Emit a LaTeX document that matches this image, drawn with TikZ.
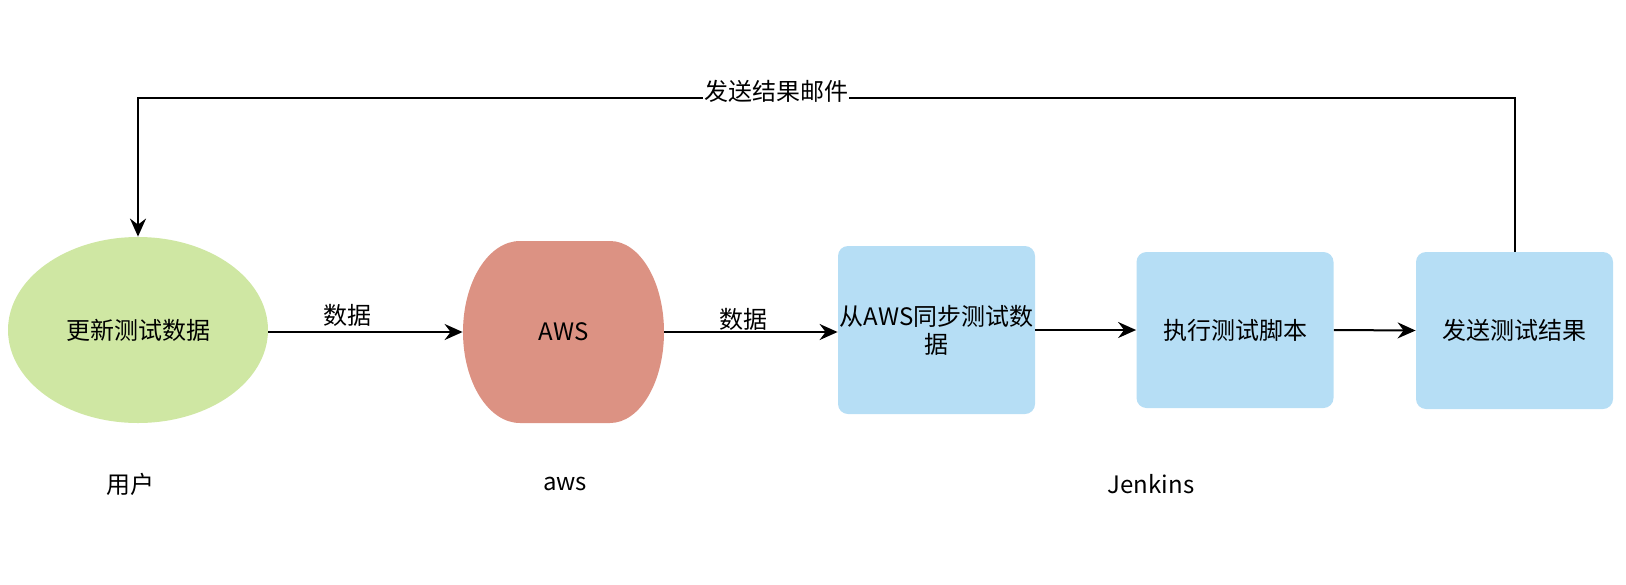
\documentclass[tikz,border=0pt]{standalone}
\usepackage{fontspec}
\setmainfont{Noto Sans CJK SC}
\usetikzlibrary{shapes.geometric,arrows.meta}
\definecolor{usergreen}{HTML}{CFE7A3}
\definecolor{awsred}{HTML}{DC9283}
\definecolor{jblue}{HTML}{B6DEF5}
\tikzset{
  txt/.style={font=\fontsize{12pt}{14pt}\selectfont, text=black},
  flowbox/.style={txt, rectangle, rounded corners=5pt, fill=jblue, inner sep=0pt, minimum width=98.5pt, align=center},
  conn/.style={line width=1pt, -{Stealth[length=9pt,width=8pt,inset=3pt]}},
  lbl/.style={txt, inner sep=0.5pt},
}
\begin{document}
\begin{tikzpicture}[x=0.5pt,y=-0.5pt]
\useasboundingbox (0,0) rectangle (1626,584);
% user ellipse
\node[txt, ellipse, fill=usergreen, inner sep=0pt, minimum width=130pt, minimum height=93pt] (ell) at (138,330) {更新测试数据};
% aws shape
\path[fill=awsred] (520,241) arc[start angle=90,end angle=270,x radius=28.5pt,y radius=45.5pt] -- (610,423) arc[start angle=-90,end angle=90,x radius=27pt,y radius=45.5pt] -- cycle;
\node[txt, rectangle, inner sep=0pt, minimum width=100.5pt, minimum height=91pt] (aws) at (563.5,332) {AWS};
% jenkins boxes
\node[flowbox, minimum height=84pt] (b1) at (936.5,330) {从AWS同步测试数\\据};
\node[flowbox, minimum height=78pt] (b2) at (1235,330) {执行测试脚本};
\node[flowbox, minimum height=78.5pt] (b3) at (1514.5,330.5) {发送测试结果};
% group labels
\node[txt] (luser) at (130,484) {用户};
\node[txt] (laws) at (565,484) {aws};
\node[txt] (ljen) at (1151,484) {Jenkins};
% connectors
\draw[conn] (ell.east |- aws.west) -- node[lbl, pos=0.405, yshift=8.5pt] (d1) {数据} (aws.west);
\draw[conn] (aws.east) -- node[lbl, fill=white, pos=0.454, yshift=6.5pt] (d2) {数据} (aws.east -| b1.west);
\draw[conn] (b1.east) -- (b2.west);
\draw[conn] (b2.east) -- (b3.west);
\coordinate (tr) at (1514.5,98);
\coordinate (tl) at (138,98);
\draw[conn] (b3.north) -- (tr) -- node[lbl, fill=white, pos=0.5365, yshift=3.5pt] (mail) {发送结果邮件} (tl) -- (ell.north);
\end{tikzpicture}
\end{document}
